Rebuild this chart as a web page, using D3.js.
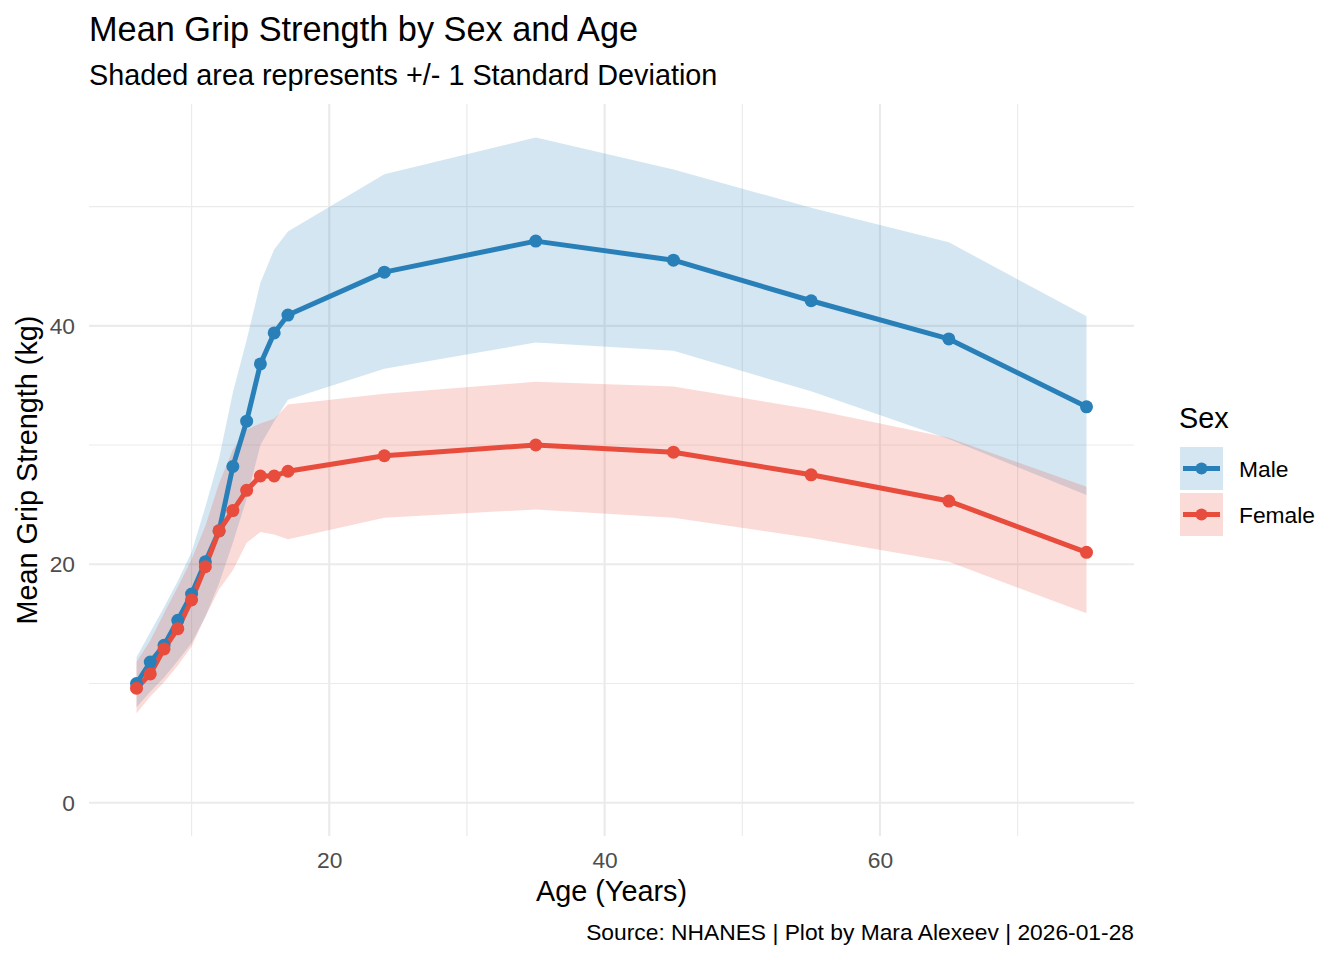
<!DOCTYPE html>
<html>
<head>
<meta charset="utf-8">
<script src="https://cdn.jsdelivr.net/npm/d3@7"></script>
<style>
  html, body { margin: 0; padding: 0; background: #fff; }
  svg { display: block; font-family: "Liberation Sans", Arial, Helvetica, sans-serif; }
</style>
</head>
<body>
<svg id="chart" width="1344" height="960"></svg>
<script>
// ---- Data ----
const ages = [6, 7, 8, 9, 10, 11, 12, 13, 14, 15, 16, 17, 24, 35, 45, 55, 65, 75];
const maleMean   = [10.0, 11.8, 13.2, 15.3, 17.5, 20.2, 22.8, 28.2, 32.0, 36.8, 39.4, 40.9, 44.5, 47.1, 45.5, 42.1, 38.9, 33.2];
const maleLower  = [8.0, 9.3, 10.5, 11.9, 13.4, 15.6, 18.4, 21.8, 25.5, 30.0, 32.0, 33.8, 36.4, 38.6, 37.9, 34.5, 30.5, 25.8];
const maleUpper  = [12.2, 14.3, 16.4, 18.6, 21.0, 24.8, 28.9, 34.4, 38.8, 43.6, 46.4, 47.9, 52.7, 55.8, 53.1, 49.9, 47.0, 40.8];
const femaleMean  = [9.6, 10.8, 12.9, 14.6, 17.0, 19.8, 22.8, 24.5, 26.2, 27.4, 27.4, 27.8, 29.1, 30.0, 29.4, 27.5, 25.3, 21.0];
const femaleLower = [7.5, 8.9, 10.1, 11.5, 13.1, 15.6, 17.9, 19.5, 21.8, 22.7, 22.5, 22.1, 23.9, 24.6, 23.9, 22.2, 20.2, 15.9];
const femaleUpper = [11.8, 13.6, 15.9, 18.1, 20.4, 23.2, 26.8, 29.6, 31.3, 31.8, 32.2, 33.4, 34.3, 35.3, 34.9, 33.0, 30.6, 26.5];
const sexes = ["Male", "Female"];
const sexColors = ["#2980B9", "#E74C3C"];
const xTicks = [20, 40, 60];
const xMinor = [10, 30, 50, 70];
const yTicks = [0, 20, 40];
const yMinor = [10, 30, 50];
const titleText = "Mean Grip Strength by Sex and Age";
const subtitleText = "Shaded area represents +/- 1 Standard Deviation";
const xTitle = "Age (Years)";
const yTitle = "Mean Grip Strength (kg)";
const captionText = "Source: NHANES | Plot by Mara Alexeev | 2026-01-28";
const legendTitle = "Sex";

// ---- Build series ----
const series = [
  { name: sexes[0], color: sexColors[0],
    pts: ages.map((a, i) => ({ age: a, mean: maleMean[i], lo: maleLower[i], hi: maleUpper[i] })) },
  { name: sexes[1], color: sexColors[1],
    pts: ages.map((a, i) => ({ age: a, mean: femaleMean[i], lo: femaleLower[i], hi: femaleUpper[i] })) }
];

// ---- Layout ----
const svg = d3.select("#chart");
const panel = { left: 89, right: 1134, top: 104, bottom: 836 };
const baseFont = 28.8;
const smallFont = 22.8;
const titleFont = 34.3;

const x = d3.scaleLinear().domain([2.55, 78.45]).range([panel.left, panel.right]);
const y = d3.scaleLinear().domain([-2.79, 58.6]).range([panel.bottom, panel.top]);

// Grid
const grid = svg.append("g");
grid.selectAll(".xminor").data(xMinor).enter().append("line")
  .attr("x1", d => x(d)).attr("x2", d => x(d))
  .attr("y1", panel.top).attr("y2", panel.bottom)
  .attr("stroke", "#EBEBEB").attr("stroke-width", 1.2);
grid.selectAll(".yminor").data(yMinor).enter().append("line")
  .attr("x1", panel.left).attr("x2", panel.right)
  .attr("y1", d => y(d)).attr("y2", d => y(d))
  .attr("stroke", "#EBEBEB").attr("stroke-width", 1.2);
grid.selectAll(".xmajor").data(xTicks).enter().append("line")
  .attr("x1", d => x(d)).attr("x2", d => x(d))
  .attr("y1", panel.top).attr("y2", panel.bottom)
  .attr("stroke", "#EBEBEB").attr("stroke-width", 2.2);
grid.selectAll(".ymajor").data(yTicks).enter().append("line")
  .attr("x1", panel.left).attr("x2", panel.right)
  .attr("y1", d => y(d)).attr("y2", d => y(d))
  .attr("stroke", "#EBEBEB").attr("stroke-width", 2.2);

// Ribbons
const area = d3.area().x(d => x(d.age)).y0(d => y(d.lo)).y1(d => y(d.hi));
svg.append("g").selectAll("path").data(series).enter().append("path")
  .attr("d", d => area(d.pts))
  .attr("fill", d => d.color).attr("fill-opacity", 0.2);

// Lines
const line = d3.line().x(d => x(d.age)).y(d => y(d.mean));
svg.append("g").selectAll("path").data(series).enter().append("path")
  .attr("d", d => line(d.pts))
  .attr("fill", "none").attr("stroke", d => d.color)
  .attr("stroke-width", 5).attr("stroke-linejoin", "round");

// Points
const ptsG = svg.append("g");
series.forEach(s => {
  ptsG.append("g").selectAll("circle").data(s.pts).enter().append("circle")
    .attr("cx", d => x(d.age)).attr("cy", d => y(d.mean))
    .attr("r", 6.5).attr("fill", s.color);
});

// Axes (labels only, like theme_minimal)
const xAxis = d3.axisBottom(x).tickValues(xTicks).tickSize(0).tickPadding(0).tickFormat(d3.format("d"));
const gx = svg.append("g").attr("transform", `translate(0,852)`).call(xAxis);
gx.select(".domain").remove();
gx.selectAll("text").attr("fill", "#4D4D4D").attr("font-size", smallFont)
  .attr("font-family", "Liberation Sans, Arial, sans-serif").attr("dy", "0.71em");

const yAxis = d3.axisLeft(y).tickValues(yTicks).tickSize(0).tickPadding(0).tickFormat(d3.format("d"));
const gy = svg.append("g").attr("transform", `translate(${panel.left - 14},0)`).call(yAxis);
gy.select(".domain").remove();
gy.selectAll("text").attr("fill", "#4D4D4D").attr("font-size", smallFont)
  .attr("font-family", "Liberation Sans, Arial, sans-serif");

// Axis titles
svg.append("text").attr("x", (panel.left + panel.right) / 2).attr("y", 901)
  .attr("text-anchor", "middle").attr("font-size", baseFont).attr("fill", "#000").text(xTitle);
svg.append("text").attr("transform", `translate(37,${(panel.top + panel.bottom) / 2}) rotate(-90)`)
  .attr("text-anchor", "middle").attr("font-size", baseFont).attr("fill", "#000").text(yTitle);

// Title / subtitle / caption
svg.append("text").attr("x", 89).attr("y", 41).attr("font-size", titleFont).attr("fill", "#000").text(titleText);
svg.append("text").attr("x", 89).attr("y", 85).attr("font-size", baseFont).attr("fill", "#000").text(subtitleText);
svg.append("text").attr("x", panel.right).attr("y", 940).attr("text-anchor", "end")
  .attr("font-size", smallFont).attr("fill", "#000").text(captionText);

// Legend
const lg = svg.append("g");
lg.append("text").attr("x", 1179).attr("y", 428).attr("font-size", baseFont).attr("fill", "#000").text(legendTitle);
series.forEach((s, i) => {
  const top = 447 + i * 46;
  lg.append("rect").attr("x", 1180).attr("y", top).attr("width", 43).attr("height", 43)
    .attr("fill", s.color).attr("fill-opacity", 0.2);
  lg.append("line").attr("x1", 1183).attr("x2", 1220).attr("y1", top + 21.5).attr("y2", top + 21.5)
    .attr("stroke", s.color).attr("stroke-width", 5);
  lg.append("circle").attr("cx", 1201.5).attr("cy", top + 21.5).attr("r", 6).attr("fill", s.color);
  lg.append("text").attr("x", 1239).attr("y", top + 30).attr("font-size", smallFont).attr("fill", "#000").text(s.name);
});
</script>
</body>
</html>
